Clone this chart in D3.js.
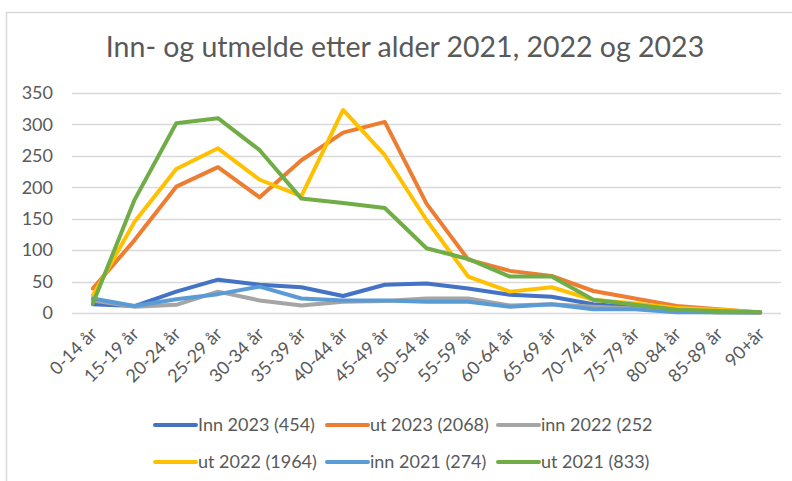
<!DOCTYPE html>
<html><head><meta charset="utf-8">
<script src="https://cdn.jsdelivr.net/npm/d3@7"></script>
<style>
html,body{margin:0;padding:0;background:#fff;}
svg{display:block;font-family:Lato,"Open Sans",sans-serif;}
</style></head>
<body>
<script>
const categories = ["0-14 år","15-19 år","20-24 år","25-29 år","30-34 år","35-39 år","40-44 år","45-49 år","50-54 år","55-59 år","60-64 år","65-69 år","70-74 år","75-79 år","80-84 år","85-89 år","90+år"];
const inn2023 = [14,11,34,53,45,41,27,45,47,39,29,26,14,9,3,1,1];
const ut2023  = [39,116,201,232,184,243,287,304,174,85,67,59,35,23,11,6,1];
const inn2022 = [20,10,13,34,20,12,18,19,23,23,12,14,10,7,2,1,0];
const ut2022  = [28,145,229,262,212,186,323,251,148,58,34,41,21,15,8,5,1];
const inn2021 = [23,11,22,30,42,23,20,20,18,18,10,14,6,6,1,1,1];
const ut2021  = [15,180,302,310,259,182,175,167,103,86,58,58,21,13,5,3,1];
const seriesNames = ["Inn 2023 (454)","ut 2023 (2068)","inn 2022 (252","ut 2022 (1964)","inn 2021 (274)","ut 2021 (833)"];
const seriesValues = [inn2023, ut2023, inn2022, ut2022, inn2021, ut2021];
const seriesColors = ["#4472C4","#ED7D31","#A5A5A5","#FFC000","#5B9BD5","#70AD47"];
const yTicks = [0,50,100,150,200,250,300,350];
const title = "Inn- og utmelde etter alder 2021, 2022 og 2023";

const W = 792, H = 481;
const svg = d3.select("body").append("svg").attr("width", W).attr("height", H);

// frame
svg.append("rect").attr("x", 6.5).attr("y", 12.5).attr("width", 800).attr("height", 500)
  .attr("fill", "none").attr("stroke", "#D9D9D9").attr("stroke-width", 1.5);

svg.append("text").attr("x", 405).attr("y", 57).attr("text-anchor", "middle")
  .attr("font-size", 28.5).attr("fill", "#595959").text(title);

const x = d3.scalePoint().domain(categories).range([72, 781]).padding(0.5);
const y = d3.scaleLinear().domain([0, 350]).range([313, 93]);

// grid
svg.append("g").selectAll("line").data(yTicks).join("line")
  .attr("x1", 72).attr("x2", 781)
  .attr("y1", d => Math.round(y(d)) + 0.5).attr("y2", d => Math.round(y(d)) + 0.5)
  .attr("stroke", "#D9D9D9").attr("stroke-width", 1.5);

// y axis labels
const yAxis = svg.append("g").attr("transform", "translate(58,0)")
  .call(d3.axisLeft(y).tickValues(yTicks).tickSize(0).tickPadding(5));
yAxis.select(".domain").remove();
yAxis.selectAll("text").attr("font-size", 18).attr("fill", "#595959").attr("font-family", "Lato,sans-serif");

// x axis labels
const xAxis = svg.append("g").attr("transform", "translate(0,313)")
  .call(d3.axisBottom(x).tickSize(0).tickPadding(0));
xAxis.select(".domain").remove();
xAxis.selectAll("text").attr("font-size", 18).attr("fill", "#595959").attr("font-family", "Lato,sans-serif")
  .attr("text-anchor", "end").attr("dy", null).attr("y", 0)
  .attr("transform", "translate(5,22) rotate(-45)");

// lines
const line = d3.line().x((d, i) => x(categories[i])).y(d => y(d));
svg.append("g").selectAll("path").data(seriesValues).join("path")
  .attr("d", d => line(d)).attr("fill", "none")
  .attr("stroke", (d, i) => seriesColors[i]).attr("stroke-width", 4)
  .attr("stroke-linejoin", "round").attr("stroke-linecap", "round");

// legend
const legX = [155, 327, 498];
const legY = [425, 462];
const leg = svg.append("g").selectAll("g").data(seriesNames).join("g")
  .attr("transform", (d, i) => `translate(${legX[i % 3]},${legY[Math.floor(i / 3)]})`);
leg.append("line").attr("x1", 0).attr("x2", 41).attr("y1", 0).attr("y2", 0)
  .attr("stroke", (d, i) => seriesColors[i]).attr("stroke-width", 4).attr("stroke-linecap", "round");
leg.append("text").attr("x", 43).attr("y", 6).attr("font-size", 18).attr("fill", "#595959").text(d => d);
</script>
</body></html>
